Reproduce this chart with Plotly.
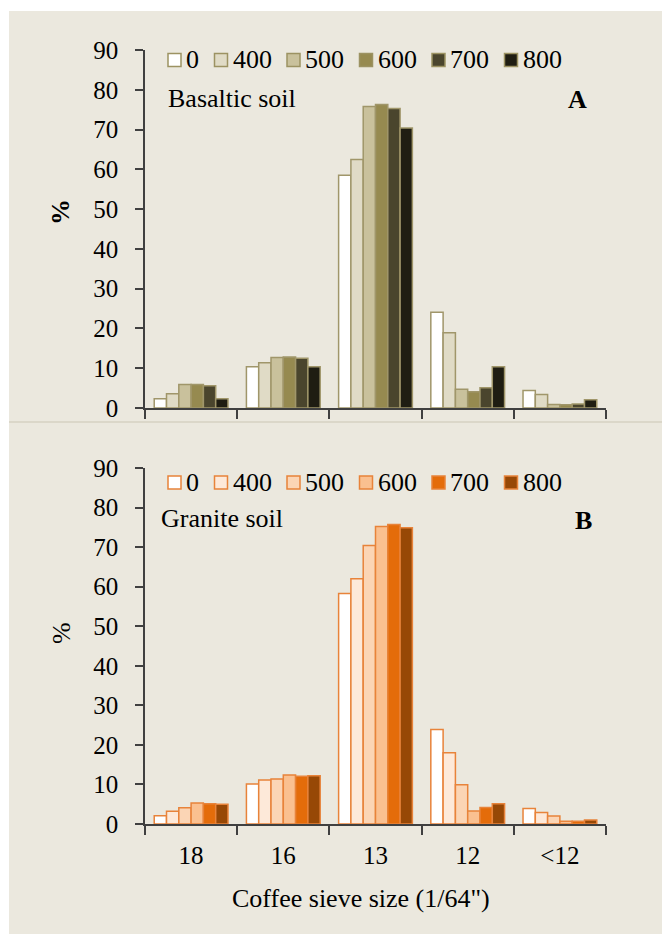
import plotly.graph_objects as go

# Sieve classes (x categories) and fertilizer doses (series)
sieve_sizes = ["18", "16", "13", "12", "<12"]
doses = ["0", "400", "500", "600", "700", "800"]

# Percent of beans retained per sieve - basaltic soil
basaltic_0 = [2.3, 10.4, 58.5, 24.1, 4.4]
basaltic_400 = [3.6, 11.4, 62.5, 18.9, 3.4]
basaltic_500 = [5.9, 12.7, 75.8, 4.7, 0.9]
basaltic_600 = [5.9, 12.8, 76.3, 4.1, 0.8]
basaltic_700 = [5.6, 12.5, 75.3, 5.1, 1.0]
basaltic_800 = [2.3, 10.4, 70.4, 10.4, 2.1]

# Percent of beans retained per sieve - granite soil
granite_0 = [2.1, 10.1, 58.3, 23.9, 3.9]
granite_400 = [3.2, 11.1, 62.0, 18.0, 2.9]
granite_500 = [4.1, 11.4, 70.4, 9.9, 2.0]
granite_600 = [5.3, 12.4, 75.2, 3.3, 0.7]
granite_700 = [5.1, 12.1, 75.7, 4.2, 0.7]
granite_800 = [5.0, 12.2, 74.9, 5.1, 1.0]

y_ticks = [0, 10, 20, 30, 40, 50, 60, 70, 80, 90]

basaltic = [basaltic_0, basaltic_400, basaltic_500, basaltic_600, basaltic_700, basaltic_800]
granite = [granite_0, granite_400, granite_500, granite_600, granite_700, granite_800]

olive_fill = ["#ffffff", "#e0dbc6", "#c9c19c", "#968a50", "#4a452d", "#1f1d12"]
olive_line = "#a0966a"
orange_fill = ["#ffffff", "#fde9d9", "#fbd5b5", "#fac090", "#e46c0a", "#974806"]
orange_line = "#e8833a"

FONT = "Times New Roman, Liberation Serif, serif"
W, H = 662, 934
L, R, T, B = 145, 606, 50, 824  # plot area in pixels


def px(x):
    return (x - L) / (R - L)


def py(y):
    return (B - y) / (B - T)


fig = go.Figure()

for vals, name, col in zip(basaltic, doses, olive_fill):
    fig.add_trace(go.Bar(x=sieve_sizes, y=vals, name=name, xaxis="x", yaxis="y",
                         marker=dict(color=col, line=dict(color=olive_line, width=1.5)),
                         showlegend=False))
for vals, name, col in zip(granite, doses, orange_fill):
    fig.add_trace(go.Bar(x=sieve_sizes, y=vals, name=name, xaxis="x2", yaxis="y2",
                         marker=dict(color=col, line=dict(color=orange_line, width=1.5)),
                         showlegend=False))

axis_col = "#404040"
tickfont = dict(family=FONT, size=25, color="black")

xcommon = dict(type="category", categoryorder="array", categoryarray=sieve_sizes,
               showline=True, linecolor=axis_col, linewidth=1.5,
               ticks="outside", tickson="boundaries", ticklen=9, tickwidth=1.5,
               tickcolor=axis_col, showgrid=False, zeroline=False, tickfont=tickfont)
ycommon = dict(range=[0, 90], tickvals=y_ticks, showline=True, linecolor=axis_col,
               linewidth=1.5, ticks="outside", ticklen=8, tickwidth=1.5, tickcolor=axis_col,
               showgrid=False, zeroline=False, tickfont=tickfont, ticklabelstandoff=12)

y_top0 = py(408)
y_bot1 = py(468)

fig.update_layout(
    width=W, height=H,
    margin=dict(l=L, r=W - R, t=T, b=H - B),
    paper_bgcolor="white", plot_bgcolor="rgba(0,0,0,0)",
    barmode="group", bargap=0.2, bargroupgap=0,
    xaxis=dict(xcommon, domain=[0, 1], anchor="y", showticklabels=False),
    yaxis=dict(ycommon, domain=[y_top0, 1], anchor="x"),
    xaxis2=dict(xcommon, domain=[0, 1], anchor="y2", ticklabelstandoff=8),
    yaxis2=dict(ycommon, domain=[0, y_bot1], anchor="x2"),
    font=dict(family=FONT, color="black"),
)

shapes = [
    dict(type="rect", xref="paper", yref="paper", x0=px(9), x1=px(670), y0=py(940), y1=py(11),
         fillcolor="#ebe8de", line=dict(width=0), layer="below"),
    dict(type="line", xref="paper", yref="paper", x0=px(9), x1=px(670), y0=py(422), y1=py(422),
         line=dict(color="#d6d2c2", width=1.5), layer="below"),
]
annotations = []


def add_legend(fills, edge, yc):
    x = 168
    for name, col in zip(doses, fills):
        shapes.append(dict(type="rect", xref="paper", yref="paper",
                           x0=px(x), x1=px(x + 13), y0=py(yc + 6.5), y1=py(yc - 6.5),
                           fillcolor=col, line=dict(color=edge, width=1.5)))
        annotations.append(dict(text=name, xref="paper", yref="paper", x=px(x + 16), y=py(yc),
                                xanchor="left", yanchor="middle", showarrow=False,
                                font=dict(family=FONT, size=26, color="black")))
        x += 33.5 + 13 * len(name)


add_legend(olive_fill, "#9c9262", 60)
add_legend(orange_fill, orange_line, 482.5)


def add_text(text, x, y, size=26, xanchor="left", bold=False, angle=0):
    if bold:
        text = "<b>" + text + "</b>"
    annotations.append(dict(text=text, xref="paper", yref="paper", x=px(x), y=py(y),
                            xanchor=xanchor, yanchor="middle", showarrow=False, textangle=angle,
                            font=dict(family=FONT, size=size, color="black")))


add_text("Basaltic soil", 166, 98)
add_text("A", 577, 99, xanchor="center", bold=True)
add_text("Granite soil", 159, 518)
add_text("B", 583, 520, xanchor="center", bold=True)
add_text("%", 60, 212, xanchor="center", bold=True, angle=-90)
add_text("%", 61, 633, xanchor="center", angle=-90)
add_text("Coffee sieve size (1/64\")", 361, 898, xanchor="center")

fig.update_layout(shapes=shapes, annotations=annotations)

fig.write_html("out.html")
